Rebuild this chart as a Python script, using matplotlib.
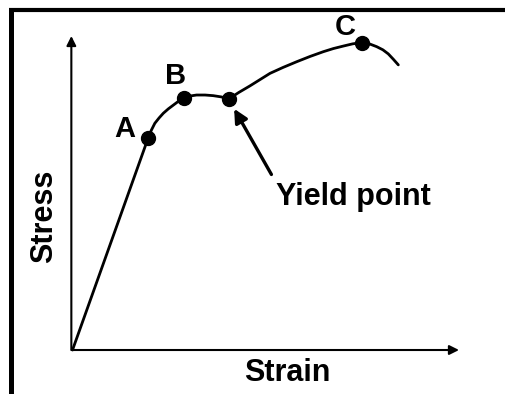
import matplotlib
matplotlib.use("Agg")
import matplotlib.pyplot as plt
from matplotlib.lines import Line2D

# curve (arbitrary units, axes run 0..10)
strain = [0.0, 1.96, 2.04, 2.13, 2.24, 2.35, 2.48, 2.61, 2.74, 2.88, 3.05,
          3.21, 3.43, 3.64, 3.85, 4.04, 4.30, 4.59, 5.11, 5.45, 5.80, 6.15,
          6.49, 6.75, 7.01, 7.25, 7.48, 7.68, 7.87, 8.03, 8.17, 8.30, 8.43]
stress = [0.0, 6.76, 7.00, 7.22, 7.39, 7.54, 7.68, 7.80, 7.92, 8.02, 8.09,
          8.12, 8.12, 8.10, 8.06, 7.99, 8.20, 8.41, 8.81, 9.00, 9.18, 9.35,
          9.50, 9.60, 9.68, 9.75, 9.79, 9.75, 9.66, 9.56, 9.43, 9.26, 9.08]

point_labels = ["A", "B", "C"]
point_strain = [1.96, 2.88, 7.48]
point_stress = [6.76, 8.02, 9.79]
label_offsets = [(-17, 6), (-6, 16), (-12, 11)]

yield_strain = 4.04
yield_stress = 7.99

FONT = ["Liberation Sans", "DejaVu Sans"]
W, H = 506, 394

fig = plt.figure(figsize=(W / 100, H / 100), dpi=100)
ax = fig.add_axes([0, 0, 1, 1])
ax.set_xlim(-1.876, 11.216)
ax.set_ylim(-1.401, 11.146)
ax.axis("off")

# frame lines at the left and top of the picture
fig.add_artist(Line2D([11.5 / W, 11.5 / W], [0, 1 - 8 / H], color="black", lw=3.6,
                      solid_capstyle="butt"))
fig.add_artist(Line2D([9 / W, 1], [1 - 10 / H, 1 - 10 / H], color="black", lw=3.0,
                      solid_capstyle="butt"))

# axes with arrowheads
arrow = dict(arrowstyle="-|>", lw=1.5, color="black", mutation_scale=14,
             shrinkA=0, shrinkB=0)
ax.annotate("", xy=(10.0, 0), xytext=(-0.02, 0), arrowprops=arrow)
ax.annotate("", xy=(-0.03, 10.0), xytext=(-0.03, 0), arrowprops=arrow)

ax.plot(strain, stress, color="black", lw=2.0, solid_capstyle="round",
        solid_joinstyle="round")
ax.plot(point_strain + [yield_strain], point_stress + [yield_stress], "o",
        color="black", ms=10)

for lab, sx, sy, off in zip(point_labels, point_strain, point_stress, label_offsets):
    ax.annotate(lab, xy=(sx, sy), xytext=off, textcoords="offset points",
                ha="center", va="center", fontsize=21, fontweight="bold",
                family=FONT)

ax.annotate("Yield point", xy=(yield_strain, yield_stress), xytext=(7.26, 4.87),
            ha="center", va="center", fontsize=22, fontweight="bold", family=FONT,
            arrowprops=dict(arrowstyle="-|>", lw=2.4, color="black",
                            mutation_scale=20, relpos=(0.0, 1.0),
                            shrinkA=4, shrinkB=8))

fig.text(287.5 / W, 1 - 373 / H, "Strain", ha="center", va="center",
         fontsize=22, fontweight="bold", family=FONT)
fig.text(44 / W, 1 - 216.5 / H, "Stress", ha="center", va="center", rotation=90,
         fontsize=22, fontweight="bold", family=FONT)

fig.savefig("out.png", dpi=100, facecolor="white")
